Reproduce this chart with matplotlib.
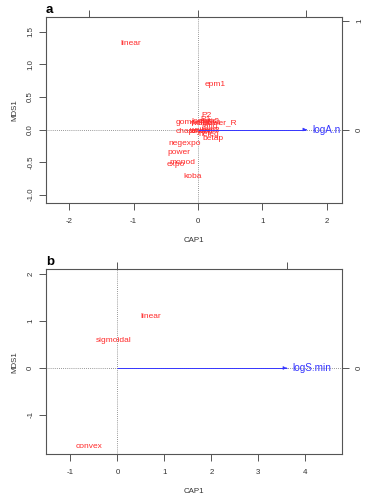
import matplotlib
matplotlib.use("Agg")
import matplotlib.pyplot as plt

plt.rcParams['font.family'] = ['Liberation Sans', 'DejaVu Sans']

# ---- Panel a data ----
a_labels = ["linear", "epm1", "P2", "gompertz", "power_R", "P1", "logistic",
            "weibull4", "epm2", "ratio", "weibull3", "asymp", "mmf", "heleg",
            "chapman", "betap", "negexpo", "power", "monod", "expo", "koba"]
a_cap1 = [-1.05, 0.27, 0.13, -0.07, 0.34, 0.12, 0.10,
          0.12, 0.17, 0.18, 0.10, 0.05, 0.18, 0.17,
          -0.08, 0.24, -0.21, -0.30, -0.24, -0.34, -0.08]
a_mds1 = [1.32, 0.69, 0.22, 0.11, 0.10, 0.16, 0.12,
          0.09, 0.13, 0.04, -0.01, -0.03, -0.02, -0.08,
          -0.03, -0.14, -0.21, -0.35, -0.51, -0.54, -0.73]
a_vector = "logA.n"
a_vec_xy = (1.0, 0.0)
a_mul_x, a_mul_y = 1.688, 1.671
a_xticks = [-2, -1, 0, 1, 2]
a_yticks = [-1.0, -0.5, 0.0, 0.5, 1.0, 1.5]
a_top_ticks = [-1, 0, 1]
a_right_ticks = [0, 1]

# ---- Panel b data ----
b_labels = ["linear", "sigmoidal", "convex"]
b_cap1 = [0.70, -0.085, -0.60]
b_mds1 = [1.09, 0.58, -1.67]
b_vector = "logS.min"
b_vec_xy = (1.0, 0.0)
b_mul_x, b_mul_y = 3.60, 3.60
b_xticks = [-1, 0, 1, 2, 3, 4]
b_yticks = [-1, 0, 1, 2]
b_top_ticks = [0, 1]
b_right_ticks = [0]

RED = '#FF2A2A'
BLUE = '#3535FF'
AXC = '#555555'
TXC = '#333333'
TICK_FS = 5.7

fig = plt.figure(figsize=(3.74, 4.96), dpi=100)


def panel(rect, letter, labels, xs, ys, vec_name, vec_xy, mx, my,
          xlim, ylim, xticks, yticks, yfmt, top_ticks, right_ticks):
    ax = fig.add_axes(rect)
    ax.set_xlim(*xlim)
    ax.set_ylim(*ylim)
    for s in ax.spines.values():
        s.set_color(AXC)
        s.set_linewidth(0.8)
    ax.axvline(0, color='#777777', lw=0.6, ls=(0, (1, 1.5)), zorder=1)
    ax.axhline(0, color='#777777', lw=0.6, ls=(0, (1, 1.5)), zorder=1)
    for lab, x, y in zip(labels, xs, ys):
        ax.text(x, y, lab, color=RED, fontsize=6, ha='center', va='center',
                zorder=3)
    ex, ey = vec_xy[0] * mx, vec_xy[1] * my
    ax.plot([0, ex], [0, ey], color=BLUE, lw=0.7, zorder=4,
            solid_capstyle='butt')
    ax.annotate('', xy=(ex, ey), xytext=(ex - 0.001, ey),
                arrowprops=dict(arrowstyle='-|>', color=BLUE, lw=0.5,
                                mutation_scale=5, shrinkA=0, shrinkB=0),
                zorder=5)
    ax.text(ex + 0.02 * (xlim[1] - xlim[0]), ey, vec_name, color=BLUE,
            fontsize=7.2, ha='left', va='center', zorder=4)
    ax.set_xticks(xticks)
    ax.set_xticklabels([str(t) for t in xticks])
    ax.set_yticks(yticks)
    ax.set_yticklabels([yfmt(t) for t in yticks], rotation=90, va='center')
    ax.tick_params(axis='x', direction='out', length=5, width=0.7,
                   color=AXC, labelsize=TICK_FS, labelcolor=TXC, pad=5.5)
    ax.tick_params(axis='y', direction='out', length=5, width=0.7,
                   color=AXC, labelsize=TICK_FS, labelcolor=TXC, pad=3.5)
    ax.set_xlabel('CAP1', fontsize=TICK_FS, color=TXC, labelpad=9)
    ax.set_ylabel('MDS1', fontsize=TICK_FS, color=TXC, labelpad=6.5)
    # secondary scales for the biplot arrows
    top = ax.secondary_xaxis('top', functions=(lambda x: x / mx, lambda s: s * mx))
    top.set_xticks(top_ticks)
    top.set_xticklabels([])
    top.tick_params(direction='out', length=5, width=0.7, color=AXC)
    top.spines['top'].set_visible(False)
    right = ax.secondary_yaxis('right', functions=(lambda y: y / my, lambda s: s * my))
    right.set_yticks(right_ticks)
    right.set_yticklabels([str(t) for t in right_ticks], rotation=90, va='center')
    right.tick_params(direction='out', length=5, width=0.7, color=AXC,
                      labelsize=TICK_FS, labelcolor=TXC, pad=5)
    right.spines['right'].set_visible(False)
    ax.text(0.0, 1.005, letter, transform=ax.transAxes, fontsize=9.5,
            fontweight='bold', ha='left', va='bottom', color='black')
    return ax


panel([46 / 374, (496 - 203) / 496, 296 / 374, 186 / 496], 'a',
      a_labels, a_cap1, a_mds1, a_vector, a_vec_xy, a_mul_x, a_mul_y,
      (-2.36, 2.24), (-1.13, 1.73), a_xticks, a_yticks,
      lambda t: f"{t:.1f}", a_top_ticks, a_right_ticks)

panel([46 / 374, (496 - 454.3) / 496, 296 / 374, 185.3 / 496], 'b',
      b_labels, b_cap1, b_mds1, b_vector, b_vec_xy, b_mul_x, b_mul_y,
      (-1.52, 4.78), (-1.84, 2.11), b_xticks, b_yticks,
      lambda t: str(t), b_top_ticks, b_right_ticks)

fig.savefig('out.png', dpi=100)
